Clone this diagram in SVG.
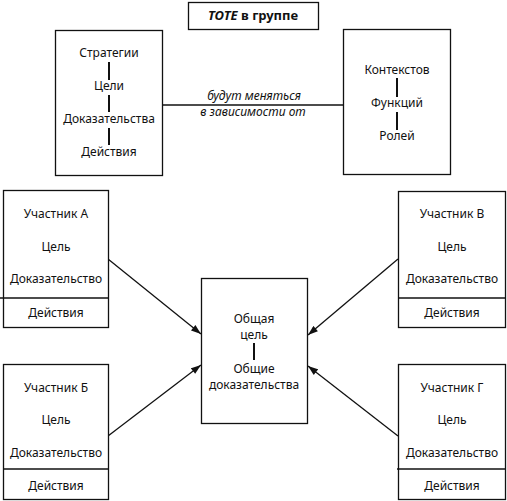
<svg xmlns="http://www.w3.org/2000/svg" width="507" height="501" viewBox="0 0 507 501">
<style>
rect.box{fill:#fff;stroke:#111;stroke-width:1.3}
line{stroke:#111;stroke-width:1.3}
line.tick{stroke-width:2}
text{font-family:"Noto Sans","DejaVu Sans",sans-serif;font-size:12px;fill:#111;text-anchor:middle}
text.it{font-style:italic}
text.title{font-weight:bold;font-size:13px}
</style>
<defs>
<marker id="ah" viewBox="0 0 10 7" refX="10" refY="3.5" markerWidth="11" markerHeight="7" markerUnits="userSpaceOnUse" orient="auto">
<path d="M0,0 L10,3.5 L0,7 z" fill="#111"/>
</marker>
</defs>
<rect width="507" height="501" fill="#fff"/>
<g id="title">
<rect class="box" x="188.5" y="2.5" width="130" height="27"/>
<text class="title" x="253" y="20"><tspan font-style="italic">TOTE</tspan> в группе</text>
</g>
<g id="connectors">
<line x1="162" y1="105" x2="343" y2="105"/>
<line x1="108" y1="259" x2="201" y2="334" marker-end="url(#ah)"/>
<line x1="108" y1="436" x2="201" y2="365" marker-end="url(#ah)"/>
<line x1="398" y1="259" x2="308" y2="335" marker-end="url(#ah)"/>
<line x1="398" y1="436" x2="308" y2="366" marker-end="url(#ah)"/>
</g>
<g id="edge-label">
<text class="it" x="254" y="100">будут меняться</text>
<text class="it" x="253" y="116">в зависимости от</text>
</g>
<g id="tote-left">
<rect class="box" x="55.5" y="30.5" width="107" height="145"/>
<text x="109" y="57">Стратегии</text>
<line class="tick" x1="109" y1="62" x2="109" y2="80"/>
<text x="109" y="90">Цели</text>
<line class="tick" x1="109" y1="95" x2="109" y2="112"/>
<text x="109" y="123">Доказательства</text>
<line class="tick" x1="109" y1="128" x2="109" y2="145"/>
<text x="109" y="156">Действия</text>
</g>
<g id="tote-right">
<rect class="box" x="343.5" y="29.5" width="107" height="145"/>
<text x="397" y="74">Контекстов</text>
<line class="tick" x1="397" y1="78" x2="397" y2="97"/>
<text x="397" y="107">Функций</text>
<line class="tick" x1="397" y1="112" x2="397" y2="130"/>
<text x="397" y="140">Ролей</text>
</g>
<g id="common">
<rect class="box" x="201.5" y="278.5" width="106" height="145"/>
<text x="254" y="323">Общая</text>
<text x="254" y="339">цель</text>
<line class="tick" x1="254" y1="343" x2="254" y2="360"/>
<text x="254" y="373">Общие</text>
<text x="254" y="389">доказательства</text>
</g>
<g id="participant-a">
<rect class="box" x="3.5" y="190.5" width="105" height="137"/>
<line x1="0" y1="298" x2="108" y2="298"/>
<text x="56" y="218">Участник А</text>
<text x="56" y="251">Цель</text>
<text x="56" y="283">Доказательство</text>
<text x="56" y="317">Действия</text>
</g>
<g id="participant-b">
<rect class="box" x="3.5" y="364.5" width="105" height="135"/>
<line x1="3" y1="469" x2="108" y2="469"/>
<text x="56" y="392">Участник Б</text>
<text x="56" y="424">Цель</text>
<text x="56" y="457">Доказательство</text>
<text x="56" y="490">Действия</text>
</g>
<g id="participant-v">
<rect class="box" x="398.5" y="191.5" width="107" height="136"/>
<line x1="398" y1="298" x2="506" y2="298"/>
<text x="452" y="218">Участник В</text>
<text x="452" y="251">Цель</text>
<text x="452" y="283">Доказательство</text>
<text x="452" y="317">Действия</text>
</g>
<g id="participant-g">
<rect class="box" x="398.5" y="364.5" width="107" height="135"/>
<line x1="397" y1="469" x2="506" y2="469"/>
<text x="452" y="392">Участник Г</text>
<text x="452" y="424">Цель</text>
<text x="452" y="457">Доказательство</text>
<text x="452" y="490">Действия</text>
</g>
</svg>
